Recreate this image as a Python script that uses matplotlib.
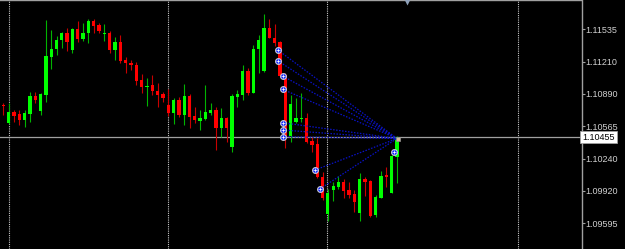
import matplotlib
matplotlib.use("Agg")
import matplotlib.pyplot as plt
import numpy as np

# candle OHLC (EURUSD-like)
opens = [1.10775, 1.10595, 1.10710, 1.10685, 1.10625, 1.10685, 1.10865, 1.10715, 1.10875, 1.11258,
         1.11332, 1.11425, 1.11492, 1.11325, 1.11532, 1.11435, 1.11492, 1.11618, 1.11575, 1.11490,
         1.11495, 1.11325, 1.11408, 1.11225, 1.11198, 1.11175, 1.11025, 1.10960, 1.10975, 1.10918,
         1.10885, 1.10772, 1.10692, 1.10825, 1.10675, 1.10865, 1.10665, 1.10618, 1.10638, 1.10698,
         1.10725, 1.10548, 1.10642, 1.10358, 1.10858, 1.10875, 1.11118, 1.10898, 1.11332, 1.11118,
         1.11542, 1.11445, 1.11405, 1.11075, 1.10470, 1.10608, 1.10635, 1.10642, 1.10415, 1.10385,
         1.10058, 1.09685, 1.09925, 1.09955, 1.10008, 1.09925, 1.09882, 1.09698, 1.10032, 1.10018,
         1.09675, 1.09848, 1.10075, 1.09898, 1.10258]
highs = [1.10795, 1.10795, 1.10730, 1.10725, 1.10725, 1.10905, 1.10905, 1.10900, 1.11625, 1.11525,
         1.11465, 1.11510, 1.11542, 1.11545, 1.11618, 1.11592, 1.11635, 1.11635, 1.11598, 1.11585,
         1.11515, 1.11452, 1.11475, 1.11258, 1.11225, 1.11208, 1.11085, 1.11042, 1.11075, 1.10992,
         1.10908, 1.10938, 1.10842, 1.10858, 1.10985, 1.10885, 1.10758, 1.10725, 1.10975, 1.10792,
         1.10758, 1.10742, 1.10658, 1.10882, 1.10925, 1.11175, 1.11142, 1.11375, 1.11475, 1.11685,
         1.11635, 1.11585, 1.11415, 1.11092, 1.10875, 1.10842, 1.10892, 1.10698, 1.10458, 1.10442,
         1.10108, 1.09935, 1.10008, 1.10065, 1.10032, 1.10008, 1.09925, 1.10092, 1.10052, 1.10025,
         1.09875, 1.10118, 1.10158, 1.10275, 1.10465]
lows = [1.10675, 1.10585, 1.10605, 1.10575, 1.10555, 1.10605, 1.10795, 1.10675, 1.10810, 1.11135,
        1.11275, 1.11345, 1.11318, 1.11292, 1.11402, 1.11418, 1.11392, 1.11492, 1.11492, 1.11415,
        1.11292, 1.11225, 1.11192, 1.11098, 1.11125, 1.10975, 1.10898, 1.10765, 1.10875, 1.10758,
        1.10808, 1.10665, 1.10585, 1.10658, 1.10575, 1.10542, 1.10592, 1.10525, 1.10625, 1.10675,
        1.10325, 1.10458, 1.10408, 1.10308, 1.10758, 1.10825, 1.10875, 1.10892, 1.11092, 1.11108,
        1.11442, 1.11365, 1.11058, 1.10342, 1.10408, 1.10595, 1.10608, 1.10395, 1.10308, 1.10042,
        1.09825, 1.09620, 1.09815, 1.09935, 1.09842, 1.09842, 1.09708, 1.09618, 1.09868, 1.09652,
        1.09652, 1.09842, 1.09958, 1.09892, 1.09992]
closes = [1.10765, 1.10705, 1.10670, 1.10630, 1.10695, 1.10865, 1.10825, 1.10885, 1.11265, 1.11332,
          1.11425, 1.11492, 1.11402, 1.11532, 1.11435, 1.11498, 1.11618, 1.11568, 1.11515, 1.11495,
          1.11325, 1.11408, 1.11215, 1.11195, 1.11172, 1.11015, 1.10958, 1.10965, 1.10915, 1.10875,
          1.10842, 1.10692, 1.10825, 1.10675, 1.10865, 1.10658, 1.10625, 1.10648, 1.10705, 1.10725,
          1.10548, 1.10642, 1.10542, 1.10865, 1.10885, 1.11118, 1.10898, 1.11335, 1.11425, 1.11542,
          1.11448, 1.11392, 1.11068, 1.10450, 1.10782, 1.10642, 1.10645, 1.10410, 1.10375, 1.10058,
          1.09848, 1.09895, 1.09965, 1.10008, 1.09918, 1.09875, 1.09802, 1.10032, 1.10008, 1.09665,
          1.09852, 1.10068, 1.10058, 1.10265, 1.10455]

# trade arrows (bar position, price) and the point their dotted lines run to
trade_x = [51.6, 51.6, 52.5, 52.5, 52.5, 52.5, 52.5, 58.6, 59.5]
trade_px = [1.11325, 1.11218, 1.11065, 1.10932, 1.10598, 1.10525, 1.10458, 1.10125, 1.09935]
close_x, close_px = 74.0, 1.10440
extra_x, extra_px = 73.5, 1.10302

price_ticks = [1.11535, 1.11210, 1.10890, 1.10565, 1.10240, 1.09920, 1.09595]
last_price = 1.10455
grid_x = [1.07, 30.96, 60.85, 96.75]

bg = "black"
fig = plt.figure(figsize=(6.25, 2.49), dpi=100, facecolor=bg)
ax = fig.add_axes([0, 0, 581.5 / 625, 1], facecolor=bg)

idx = np.arange(len(opens))
o = np.array(opens); c = np.array(closes)
up = c >= o
bottom = np.minimum(o, c)
height = np.maximum(np.abs(c - o), 0.00008)

for x in grid_x:
    ax.axvline(x, color="#c8c8c8", lw=0.8, ls=(0, (1, 1)), zorder=1)

ax.axhline(last_price, color="#a0a0a0", lw=0.9, zorder=1)

ax.vlines(idx[up], np.array(lows)[up], np.array(highs)[up], color="#00b400", lw=0.8, zorder=2)
ax.vlines(idx[~up], np.array(lows)[~up], np.array(highs)[~up], color="#c80000", lw=0.8, zorder=2)
ax.bar(idx[up], height[up], bottom=bottom[up], width=0.62, color="#00ff00", lw=0, zorder=3)
ax.bar(idx[~up], height[~up], bottom=bottom[~up], width=0.62, color="#ff0000", lw=0, zorder=3)

for x, p in zip(trade_x, trade_px):
    ax.plot([x, close_x], [p, close_px], color="#0a12c8", lw=0.9, ls=(0, (1.2, 1.2)), zorder=4)
ax.plot(trade_x + [extra_x], trade_px + [extra_px], "o", ms=4.2, mfc="#1428ff", mec="#c8c8d8",
        mew=0.8, zorder=5)
ax.plot(trade_x + [extra_x], trade_px + [extra_px], "+", ms=2.5, color="#ffffff", mew=0.5, zorder=6)
ax.plot([close_x + 0.2], [close_px - 0.00003], "s", ms=3.2, mfc="#d6b898", mec="#909090", mew=0.5, zorder=5)

# chart shift marker at the top
ax.plot([75.9], [1.11800], "v", ms=5, color="#8ea0b8", mec="none", zorder=6, clip_on=False)

ax.set_xlim(-0.62, 108.68)
ax.set_ylim(1.09335, 1.11825)

for s in ["left", "bottom"]:
    ax.spines[s].set_visible(False)
for s in ["top", "right"]:
    ax.spines[s].set_color("#a0a0a0")
    ax.spines[s].set_linewidth(1)

ax.set_xticks([])
ax.yaxis.tick_right()
ax.set_yticks(price_ticks)
ax.set_yticklabels([f"{p:.5f}" for p in price_ticks])
ax.tick_params(axis="y", colors="#a0a0a0", labelcolor="#d0d0d0", length=2, width=0.8, pad=0.8,
               labelsize=6.5)
for lab in ax.get_yticklabels():
    lab.set_family("Liberation Sans")

ax.text(1.0015, last_price, f"{last_price:.5f}", transform=ax.get_yaxis_transform(), ha="left",
        va="center", fontsize=6.5, family="Liberation Sans", color="black",
        bbox=dict(boxstyle="square,pad=0.22", fc="white", ec="#a0a0a0", lw=0.6), zorder=7, clip_on=False)

fig.savefig("out.png", dpi=100, facecolor=bg)
